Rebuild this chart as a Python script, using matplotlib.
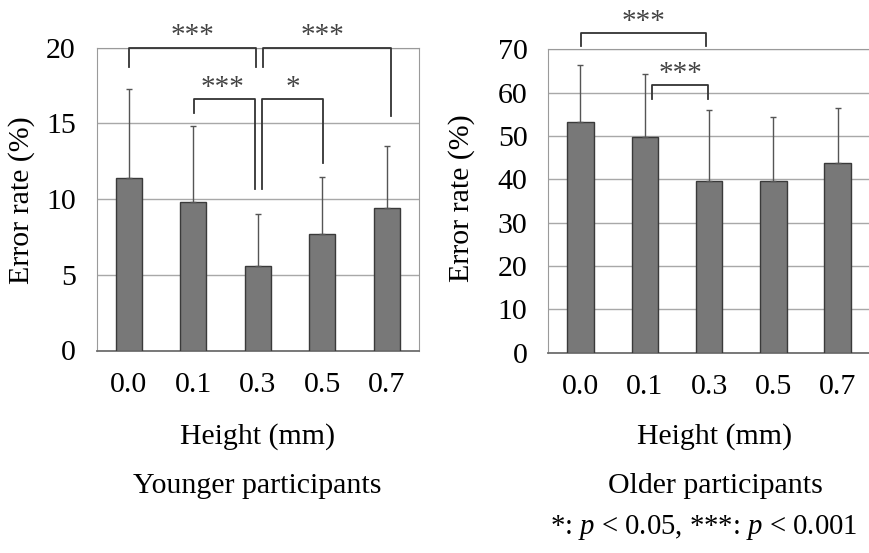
import matplotlib
matplotlib.use("Agg")
import matplotlib.pyplot as plt
import matplotlib as mpl

# error rate by relief height, mean and SD (%)
heights = ["0.0", "0.1", "0.3", "0.5", "0.7"]
young_mean = [11.4, 9.8, 5.6, 7.7, 9.4]
young_sd = [5.9, 5.0, 3.4, 3.75, 4.1]
old_mean = [53.3, 49.7, 39.5, 39.5, 43.7]
old_sd = [13.1, 14.7, 16.4, 14.8, 12.7]

# significance brackets: (x_left, x_right, y_bar, y_left_leg, y_right_leg, text, text_x, text_y)
young_sig = [
    (0.0, 1.97, 20.0, 18.7, 18.7, "***", 0.99, 19.9),
    (2.08, 4.07, 20.0, 18.7, 15.5, "***", 3.01, 19.9),
    (1.01, 1.96, 16.6, 15.7, 10.7, "***", 1.45, 16.5),
    (2.07, 3.01, 16.6, 10.7, 12.4, "*", 2.55, 16.5),
]
old_sig = [
    (0.01, 1.96, 73.8, 70.7, 70.7, "***", 0.98, 73.3),
    (1.11, 1.99, 61.7, 58.6, 58.6, "***", 1.55, 61.2),
]

mpl.rcParams["font.family"] = "Liberation Serif"
mpl.rcParams["font.size"] = 21.5
mpl.rcParams["mathtext.fontset"] = "custom"
mpl.rcParams["mathtext.rm"] = "Liberation Serif"
mpl.rcParams["mathtext.it"] = "Liberation Serif:italic"

W, H = 869, 553
fig = plt.figure(figsize=(W / 100, H / 100), dpi=100)


def px_box(x0, x1, ytop, ybot):
    return [x0 / W, 1 - ybot / H, (x1 - x0) / W, (ybot - ytop) / H]


def panel(ax, means, sds, ymax, step, sig):
    x = range(len(means))
    ax.bar(x, means, width=0.41, color="#787878", edgecolor="#3a3a3a",
           linewidth=1.0, zorder=3)
    ax.errorbar(x, means, yerr=[[0] * len(sds), sds], fmt="none",
                ecolor="#555555", elinewidth=1.0, capsize=2.5, capthick=1.0,
                zorder=4)
    ax.set_xlim(-0.5, len(means) - 0.5)
    ax.set_ylim(0, ymax)
    ax.set_yticks(range(0, ymax + 1, step))
    ax.set_xticks(list(x))
    ax.set_xticklabels(heights)
    ax.tick_params(length=0, pad=15)
    ax.tick_params(axis="x", pad=15.5)
    ax.yaxis.grid(True, color="#a8a8a8", linewidth=1.0, zorder=0)
    ax.set_axisbelow(True)
    for s in ["top", "right", "left"]:
        ax.spines[s].set_color("#9a9a9a")
    ax.spines["bottom"].set_color("#6e6e6e")
    ax.spines["bottom"].set_linewidth(1.3)
    for (xl, xr, yb, yl, yr, txt, tx, ty) in sig:
        ax.plot([xl, xl, xr, xr], [yl, yb, yb, yr], color="#333333",
                linewidth=1.3, clip_on=False, zorder=5)
        ax.text(tx, ty, txt, ha="center", va="bottom", color="#444444",
                fontsize=21, clip_on=False)


ax1 = fig.add_axes(px_box(96.5, 419, 47.7, 350.5))
panel(ax1, young_mean, young_sd, 20, 5, young_sig)

ax2 = fig.add_axes(px_box(548.3, 869.8, 49.3, 352.7))
panel(ax2, old_mean, old_sd, 70, 10, old_sig)
ax2.spines["right"].set_visible(False)

# axis labels and captions
fig.text(21.7 / W, 1 - 200 / H, "Error rate (%)", rotation=90,
         ha="center", va="center")
fig.text(461.7 / W, 1 - 198 / H, "Error rate (%)", rotation=90,
         ha="center", va="center")
fig.text(257.5 / W, 1 - 444 / H, "Height (mm)", ha="center", va="baseline")
fig.text(715 / W, 1 - 444 / H, "Height (mm)", ha="center", va="baseline")
fig.text(257 / W, 1 - 493 / H, "Younger participants", ha="center",
         va="baseline")
fig.text(715 / W, 1 - 493 / H, "Older participants", ha="center",
         va="baseline")
fig.text(857 / W, 1 - 534 / H, r"*: $p$ < 0.05, ***: $p$ < 0.001",
         ha="right", va="baseline", fontsize=20.7)

fig.savefig("out.png", dpi=100)
